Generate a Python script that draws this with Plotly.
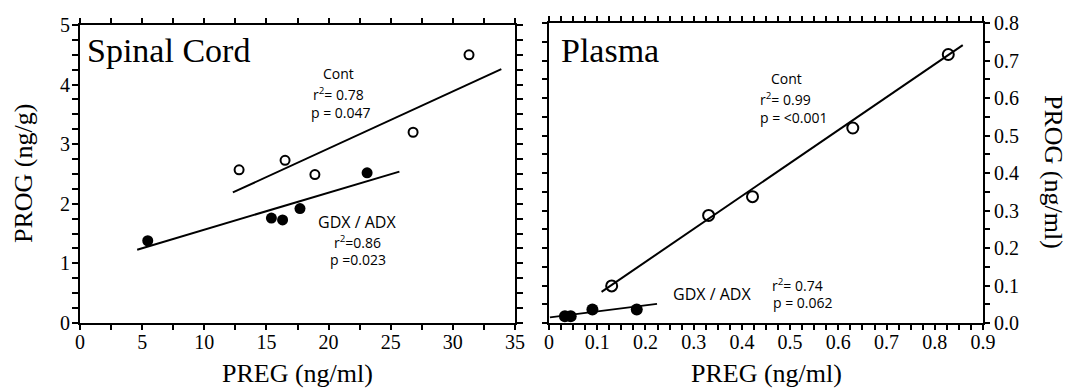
import plotly.graph_objects as go

# ---------------- data ----------------
# Spinal cord panel
sc_cont_preg = [12.8, 16.5, 18.9, 26.8, 31.3]
sc_cont_prog = [2.57, 2.73, 2.49, 3.20, 4.50]
sc_gdx_preg = [5.45, 15.4, 16.3, 17.7, 23.1]
sc_gdx_prog = [1.38, 1.76, 1.73, 1.92, 2.52]
sc_cont_fit_x = [12.3, 33.9]
sc_cont_fit_y = [2.19, 4.26]
sc_gdx_fit_x = [4.6, 25.7]
sc_gdx_fit_y = [1.23, 2.54]

# Plasma panel
pl_cont_preg = [0.130, 0.331, 0.422, 0.630, 0.828]
pl_cont_prog = [0.099, 0.287, 0.337, 0.520, 0.716]
pl_gdx_preg = [0.033, 0.045, 0.090, 0.182]
pl_gdx_prog = [0.018, 0.018, 0.036, 0.036]
pl_cont_fit_x = [0.109, 0.858]
pl_cont_fit_y = [0.083, 0.741]
pl_gdx_fit_x = [0.002, 0.224]
pl_gdx_fit_y = [0.015, 0.051]

# ticks
sc_x_ticks = [i * 2.5 for i in range(15)]
sc_x_labels = [str(int(v)) if v % 5 == 0 else "" for v in sc_x_ticks]
sc_y_ticks = [i * 0.25 for i in range(21)]
sc_y_labels = [str(int(v)) if v % 1 == 0 else "" for v in sc_y_ticks]
pl_x_ticks = [round(i * 0.025, 3) for i in range(37)]
pl_x_labels = [("0" if i == 0 else f"{i*0.025:.1f}") if i % 4 == 0 else "" for i in range(37)]
pl_y_ticks = [round(i * 0.05, 3) for i in range(17)]
pl_y_labels = [f"{i*0.05:.1f}" if i % 2 == 0 else "" for i in range(17)]

# ---------------- figure ----------------
W, H = 1072, 391
ML, MR, MT, MB = 80, 89, 19, 68
PW = W - ML - MR
PH = H - MT - MB


def xp(px):
    return (px - ML) / PW


def yp(py):
    return (H - MB - py) / PH


SERIF = "Liberation Serif"
SANS = "Open Sans"

fig = go.Figure()

open_marker = dict(symbol="circle-open", size=9, color="black", line=dict(width=2, color="black"))
filled_marker = dict(symbol="circle", size=11, color="black")
open_marker2 = dict(symbol="circle-open", size=11, color="black", line=dict(width=2, color="black"))
filled_marker2 = dict(symbol="circle", size=12, color="black")
fit_line = dict(color="black", width=2)

fig.add_trace(go.Scatter(x=sc_cont_fit_x, y=sc_cont_fit_y, mode="lines", line=fit_line, xaxis="x", yaxis="y"))
fig.add_trace(go.Scatter(x=sc_gdx_fit_x, y=sc_gdx_fit_y, mode="lines", line=fit_line, xaxis="x", yaxis="y"))
fig.add_trace(go.Scatter(x=sc_cont_preg, y=sc_cont_prog, mode="markers", marker=open_marker, xaxis="x", yaxis="y"))
fig.add_trace(go.Scatter(x=sc_gdx_preg, y=sc_gdx_prog, mode="markers", marker=filled_marker, xaxis="x", yaxis="y"))

fig.add_trace(go.Scatter(x=pl_cont_fit_x, y=pl_cont_fit_y, mode="lines", line=fit_line, xaxis="x2", yaxis="y2"))
fig.add_trace(go.Scatter(x=pl_gdx_fit_x, y=pl_gdx_fit_y, mode="lines", line=fit_line, xaxis="x2", yaxis="y2"))
fig.add_trace(go.Scatter(x=pl_cont_preg, y=pl_cont_prog, mode="markers", marker=open_marker2, xaxis="x2", yaxis="y2"))
fig.add_trace(go.Scatter(x=pl_gdx_preg, y=pl_gdx_prog, mode="markers", marker=filled_marker2, xaxis="x2", yaxis="y2"))

tick_font = dict(family=SERIF, size=20, color="black")


def axis(**kw):
    d = dict(
        showgrid=False, zeroline=False, showline=True, linecolor="black", linewidth=2,
        ticks="outside", ticklen=5, tickwidth=1.5, tickcolor="black", mirror="allticks",
        tickmode="array", tickfont=tick_font,
    )
    d.update(kw)
    return d


fig.update_layout(
    width=W, height=H,
    margin=dict(l=ML, r=MR, t=MT, b=MB),
    paper_bgcolor="white", plot_bgcolor="white",
    font=dict(family=SERIF, color="black"),
    showlegend=False,
    xaxis=axis(domain=[0, xp(515)], range=[0, 35],
               tickvals=sc_x_ticks, ticktext=sc_x_labels, anchor="y", ticklabelstandoff=-5),
    yaxis=axis(domain=[0, yp(21)], range=[0, 5],
               tickvals=sc_y_ticks, ticktext=sc_y_labels, anchor="x", ticklen=6, ticklabelstandoff=-2),
    xaxis2=axis(domain=[xp(549), 1], range=[0, 0.9],
                tickvals=pl_x_ticks, ticktext=pl_x_labels, anchor="y2", ticklabelstandoff=-5),
    yaxis2=axis(domain=[0, 1], range=[0, 0.8],
                tickvals=pl_y_ticks, ticktext=pl_y_labels, anchor="x2", side="right"),
)


def ann(text, px, py, size, family=SANS, angle=0, xanchor="center"):
    fig.add_annotation(text=text, x=xp(px), y=yp(py), xref="paper", yref="paper",
                       showarrow=False, xanchor=xanchor, yanchor="middle", textangle=angle,
                       font=dict(family=family, size=size, color="black"))


# panel titles
ann("Spinal Cord", 85, 47, 34, family=SERIF, xanchor="left")
ann("Plasma", 559, 47, 34, family=SERIF, xanchor="left")

# axis titles
ann("PROG (ng/g)", 24, 172, 26, family=SERIF, angle=-90)
ann("PREG (ng/ml)", 297, 374, 26, family=SERIF)
ann("PREG (ng/ml)", 766, 374, 26, family=SERIF)
ann("PROG (ng/ml)", 1054, 170, 26, family=SERIF, angle=90)

# statistics, spinal cord
ann("Cont", 338, 70, 14)
ann("r<sup>2</sup>= 0.78", 338, 91, 14)
ann("p = 0.047", 341, 110, 14)
ann("GDX / ADX", 357, 221, 16)
ann("r<sup>2</sup>=0.86", 357, 241, 14)
ann("p =0.023", 358, 259, 14)

# statistics, plasma
ann("Cont", 786, 75, 14)
ann("r<sup>2</sup>= 0.99", 785, 96, 14)
ann("p = <0.001", 794, 115, 14)
ann("GDX / ADX", 712, 294, 16)
ann("r<sup>2</sup>= 0.74", 797, 284, 14)
ann("p = 0.062", 803, 302, 14)

fig.write_html(
    "out.html",
    config={"displayModeBar": False},
    post_script="document.body.style.margin='0';document.body.style.padding='0';",
)
